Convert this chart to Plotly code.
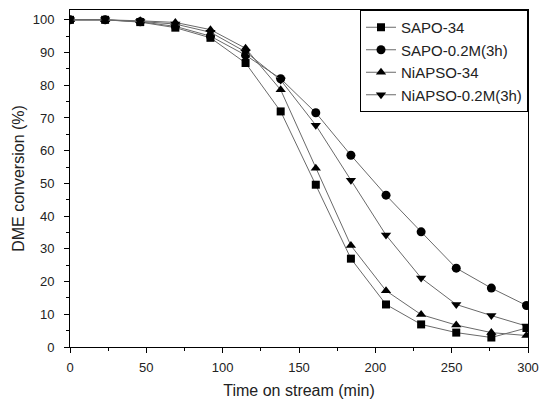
import plotly.graph_objects as go

time_min = [0, 23, 46, 69, 92, 115, 138, 161, 184, 207, 230, 253, 276, 299]
sapo34 = [100, 100, 99.3, 97.6, 94.5, 86.8, 72.0, 49.6, 27.0, 13.0, 6.9, 4.4, 2.9, 5.8]
sapo_02m = [100, 100, 99.4, 98.0, 95.0, 89.2, 82.0, 71.6, 58.6, 46.4, 35.2, 24.1, 18.0, 12.7]
niapso34 = [100, 100, 99.7, 99.2, 97.0, 91.3, 78.6, 54.6, 31.0, 17.2, 9.9, 6.7, 4.4, 3.5]
niapso_02m = [100, 100, 99.5, 98.7, 96.2, 90.2, 81.6, 67.8, 51.0, 34.2, 21.1, 13.0, 9.6, 6.4]

names = ["SAPO-34", "SAPO-0.2M(3h)", "NiAPSO-34", "NiAPSO-0.2M(3h)"]
series = [sapo34, sapo_02m, niapso34, niapso_02m]
symbols = ["square", "circle", "triangle-up", "triangle-down"]
sizes = [8, 9, 9, 9]

FONT = "Liberation Sans, Arial"

fig = go.Figure()
for n, s, sym, sz in zip(names, series, symbols, sizes):
    fig.add_trace(go.Scatter(
        x=time_min, y=s, name=n, mode="lines+markers",
        line=dict(color="#6a6a6a", width=1),
        marker=dict(symbol=sym, size=sz, color="black", line=dict(width=0)),
    ))

axis_common = dict(
    showgrid=False, zeroline=False, showline=True, linecolor="black", linewidth=1,
    mirror=True, ticks="outside", ticklen=5, tickcolor="black", tickwidth=1,
    tickfont=dict(family=FONT, size=13, color="#222"), automargin=False,
)
fig.update_xaxes(range=[0, 300], dtick=50, tick0=0, ticklabelstandoff=3,
                 minor=dict(ticks="outside", ticklen=3, dtick=25, tickcolor="black"),
                 title=dict(text="Time on stream (min)", font=dict(family=FONT, size=16, color="#222"), standoff=12),
                 **axis_common)
fig.update_yaxes(range=[0, 103], dtick=10, tick0=0, ticklabelstandoff=7,
                 minor=dict(ticks="outside", ticklen=3, dtick=5, tickcolor="black"),
                 title=dict(text="DME conversion (%)", font=dict(family=FONT, size=16, color="#222"), standoff=4),
                 **axis_common)

fig.update_layout(
    width=541, height=399,
    margin=dict(l=70, r=13, t=10, b=52),
    paper_bgcolor="white", plot_bgcolor="white",
    legend=dict(x=1, y=1, xanchor="right", yanchor="top",
                bordercolor="black", borderwidth=1, bgcolor="white",
                font=dict(family=FONT, size=15, color="#222"),
                tracegroupgap=0, itemwidth=30),
    showlegend=True,
)

fig.write_html("out.html")
